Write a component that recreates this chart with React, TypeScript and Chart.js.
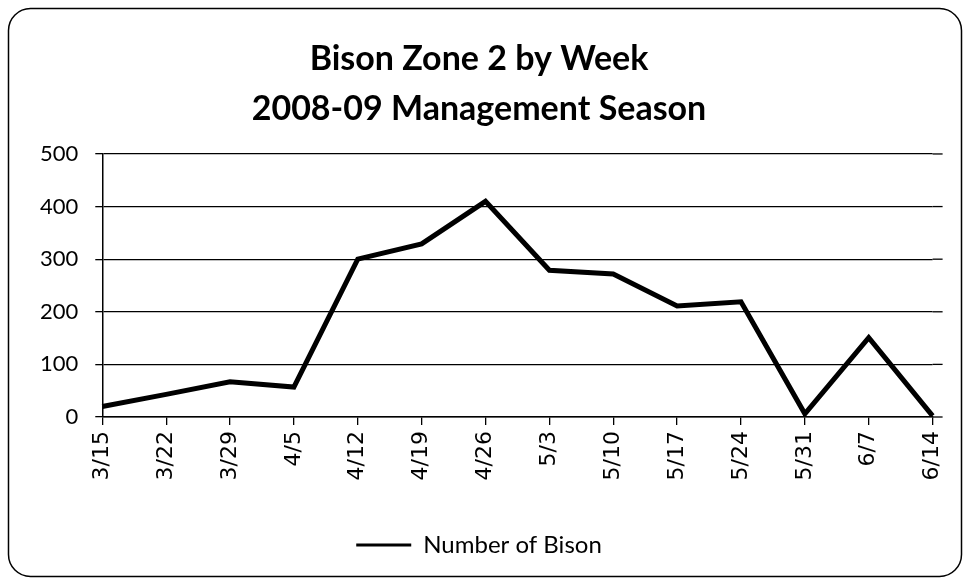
import React, { useEffect, useRef } from "react";
import { Chart, registerables } from "chart.js";

Chart.register(...registerables);

const weeks = ["3/15", "3/22", "3/29", "4/5", "4/12", "4/19", "4/26", "5/3", "5/10", "5/17", "5/24", "5/31", "6/7", "6/14"];
const bison = [20, 43, 67, 57, 300, 329, 410, 279, 272, 211, 219, 6, 151, 2];
const yTicks = [0, 100, 200, 300, 400, 500];
const titleLines = ["Bison Zone 2 by Week", "2008-09 Management Season"];
const seriesName = "Number of Bison";

const borderPlugin = {
  id: "roundBorder",
  beforeDatasetsDraw(chart: any) {
    // small extension of gridlines past the last category, as in the original
    const ctx = chart.ctx;
    const y = chart.scales.y;
    const right = chart.chartArea.right;
    ctx.save();
    ctx.strokeStyle = "#000";
    ctx.lineWidth = 1.3;
    yTicks.forEach((v) => {
      const py = y.getPixelForValue(v);
      ctx.beginPath();
      ctx.moveTo(right, py);
      ctx.lineTo(right + 10, py);
      ctx.stroke();
    });
    ctx.restore();
  },
  afterDraw(chart: any) {
    const ctx = chart.ctx;
    ctx.save();
    ctx.strokeStyle = "#000";
    ctx.lineWidth = 1.5;
    ctx.beginPath();
    ctx.roundRect(8.5, 8.5, 953, 568, 22);
    ctx.stroke();
    ctx.restore();
  },
};

export default function App() {
  const ref = useRef<HTMLCanvasElement>(null);
  useEffect(() => {
    document.body.style.margin = "0";
    const chart = new Chart(ref.current!, {
      type: "line",
      data: {
        labels: weeks,
        datasets: [
          {
            label: seriesName,
            data: bison,
            borderColor: "#000",
            backgroundColor: "#000",
            borderWidth: 5,
            pointRadius: 0,
            tension: 0,
          },
        ],
      },
      options: {
        animation: false,
        responsive: false,
        layout: { padding: { top: 34, left: 23, right: 30, bottom: 15 } },
        plugins: {
          title: {
            display: true,
            text: titleLines,
            color: "#000",
            font: { family: "Lato", size: 34, weight: "bold", lineHeight: 1.47 },
            padding: { top: 0, bottom: 20 },
          },
          legend: {
            position: "bottom",
            labels: {
              color: "#000",
              font: { family: "Lato", size: 24 },
              boxWidth: 55,
              boxHeight: 3,
              padding: 23,
              generateLabels: (chart: any) =>
                Chart.defaults.plugins.legend.labels
                  .generateLabels(chart)
                  .map((l: any) => ({ ...l, lineWidth: 0 })),
            },
          },
          tooltip: { enabled: false },
        },
        scales: {
          x: {
            offset: false,
            grid: { display: true, drawOnChartArea: false, color: "#000", tickLength: 8, lineWidth: 1.3 },
            border: { color: "#000", width: 1.5 },
            ticks: { color: "#000", maxRotation: 90, minRotation: 90, font: { family: "DejaVu Sans", size: 22 }, padding: 6 },
            afterFit: (scale: any) => {
              scale.height = 93;
            },
          },
          y: {
            min: 0,
            max: 500,
            ticks: { stepSize: 100, color: "#000", font: { family: "Lato", size: 22 }, padding: 17 },
            grid: { color: "#000", lineWidth: 1.3, tickLength: 7 },
            border: { color: "#000", width: 1.5 },
          },
        },
      },
      plugins: [borderPlugin],
    });
    return () => chart.destroy();
  }, []);
  return <canvas ref={ref} width={965} height={582} style={{ display: "block" }} />;
}
